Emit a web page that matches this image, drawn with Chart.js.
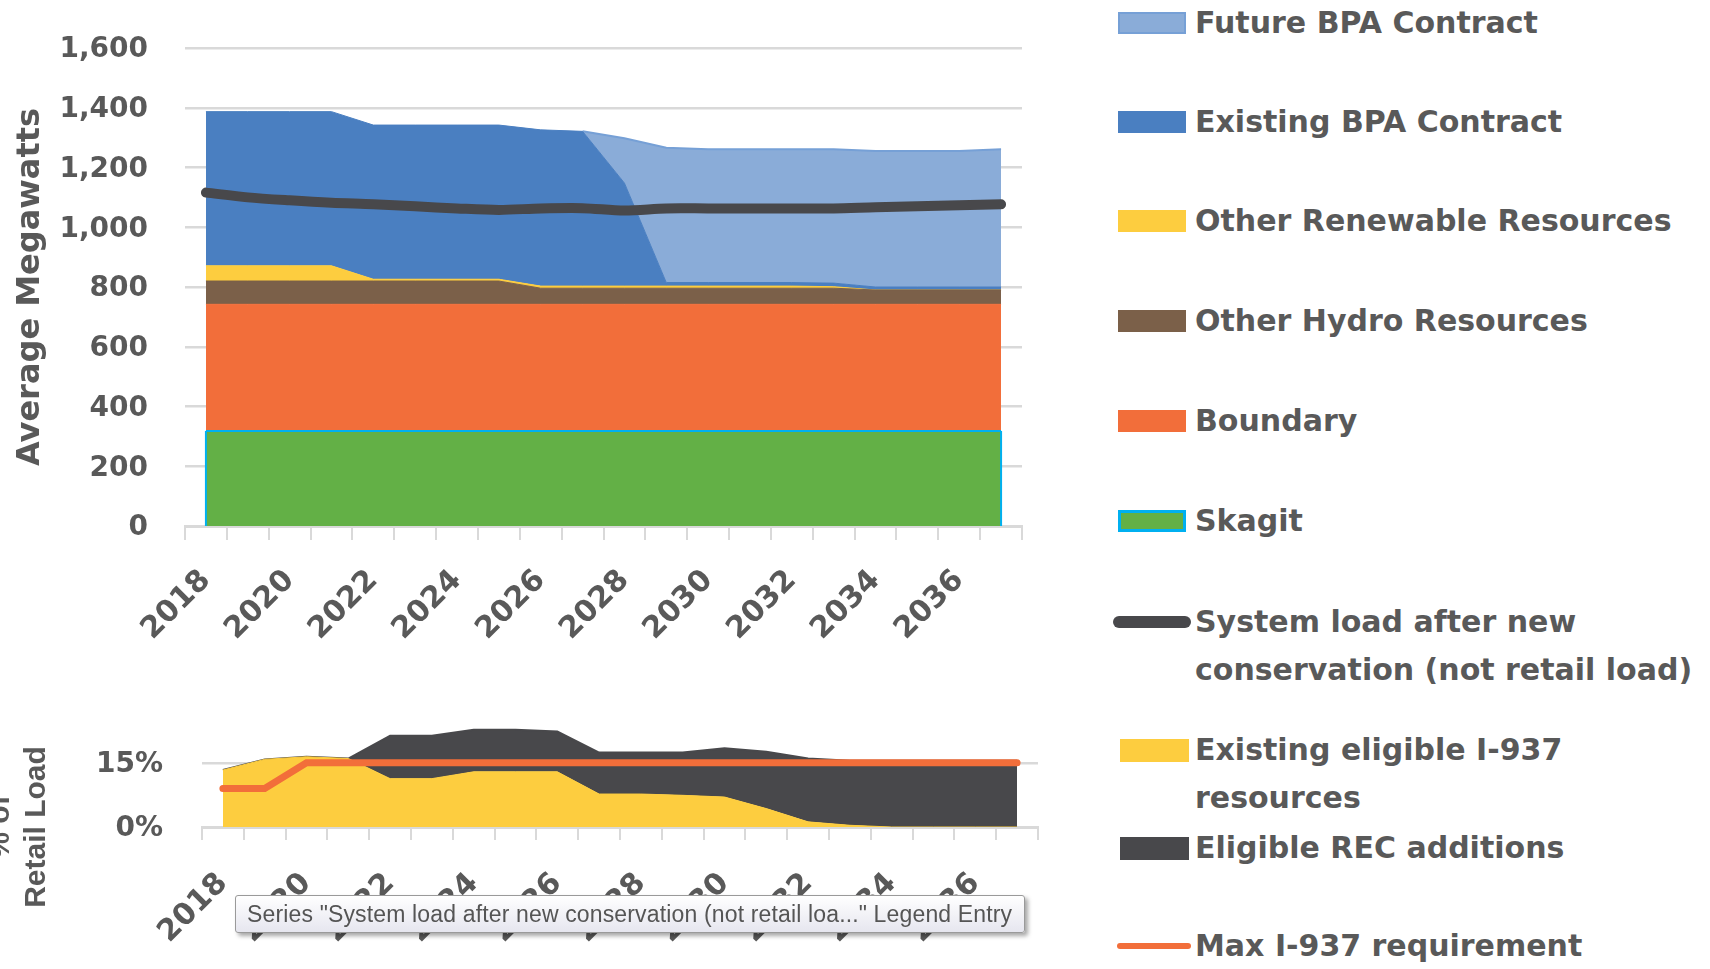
<!DOCTYPE html>
<html lang="en">
<head>
<meta charset="UTF-8" />
<title>Resources and load, 2018-2037</title>
<script src="https://cdn.jsdelivr.net/npm/chart.js@4.4.0/dist/chart.umd.min.js"></script>
<style>
  html, body { margin: 0; padding: 0; background: #fff; }
  body { width: 1710px; height: 969px; position: relative; overflow: hidden; font-family: "DejaVu Sans", sans-serif; }
  #topChart { position: absolute; left: 0; top: 0; }
  #bottomChart { position: absolute; left: -19px; top: 690px; }
  .swatch { position: absolute; box-sizing: border-box; }
  .leg-text { position: absolute; left: 1195px; width: 515px; font: bold 30px "DejaVu Sans", sans-serif; line-height: 48px; color: #595959; }
  #pctTitle { position: absolute; left: -133px; top: 791px; width: 300px; height: 72px; transform: rotate(-90deg);
              text-align: center; font: bold 30px "Liberation Sans", Arial, sans-serif; line-height: 36px; color: #595959; }
  #tip { position: absolute; left: 235px; top: 895px; width: 790px; height: 38px; box-sizing: border-box;
         border: 1px solid #9a9a9a; border-radius: 3px; background: linear-gradient(#ffffff, #e6e6ef);
         box-shadow: 3px 3px 4px rgba(0,0,0,0.35); font: 23px "Liberation Sans", Arial, sans-serif; letter-spacing: 0.15px;
         color: #555; line-height: 36px; padding-left: 11px; white-space: nowrap; }
</style>
</head>
<body>
<canvas id="topChart" width="1040" height="660"></canvas>
<canvas id="bottomChart" width="1070" height="279"></canvas>
<div id="legend"></div>
<div id="pctTitle">% of<br>Retail Load</div>
<div id="tip">Series "System load after new conservation (not retail loa..." Legend Entry</div>

<script>
// ---- data ----
const years = ['2018', '2019', '2020', '2021', '2022', '2023', '2024', '2025', '2026', '2027',
               '2028', '2029', '2030', '2031', '2032', '2033', '2034', '2035', '2036', '2037'];

// average megawatts
const skagit         = [318, 318, 318, 318, 318, 318, 318, 318, 318, 318, 318, 318, 318, 318, 318, 318, 318, 318, 318, 318];
const boundary       = [424, 424, 424, 424, 424, 424, 424, 424, 424, 424, 424, 424, 424, 424, 424, 424, 424, 424, 424, 424];
const otherHydro     = [78, 78, 78, 78, 78, 78, 78, 78, 54, 54, 54, 54, 54, 54, 54, 54, 48, 48, 48, 48];
const otherRenewable = [51, 51, 51, 51, 6, 6, 6, 6, 7, 7, 7, 7, 7, 7, 7, 5, 0, 0, 0, 0];
const existingBpa    = [516, 516, 516, 516, 516, 516, 516, 516, 523, 518, 345, 12, 12, 12, 12, 12, 10, 10, 10, 10];
const futureBpa      = [null, null, null, null, null, null, null, null, null, 0, 150, 451, 446, 446, 446, 448, 455, 455, 455, 461];
const systemLoad     = [1116, 1100, 1090, 1082, 1077, 1070, 1063, 1058, 1063, 1064, 1056, 1063, 1063, 1063, 1063, 1063, 1067, 1070, 1074, 1077];

// percent of retail load
const existingEligible = [13.3, 15.8, 16.4, 16.0, 11.3, 11.3, 12.9, 12.9, 12.9, 7.7, 7.7, 7.4, 7.0, 4.3, 1.2, 0.4, 0, 0, 0, 0];
const recAdditions     = [0, 0, 0, 0, 10.0, 10.0, 9.8, 9.8, 9.4, 9.7, 9.7, 10.0, 11.4, 13.3, 14.8, 15.1, 15.5, 15.5, 15.5, 15.5];
const maxI937          = [9, 9, 15, 15, 15, 15, 15, 15, 15, 15, 15, 15, 15, 15, 15, 15, 15, 15, 15, 15];

const mwTicks  = [0, 200, 400, 600, 800, 1000, 1200, 1400, 1600];
const pctTicks = [0, 15];

// ---- colours ----
const C = {
  future: '#8aacd8', futureEdge: '#76a0d6', existing: '#4a7fc1', renew: '#fdcd3f',
  hydro: '#7b6049', boundary: '#f26e3a', skagit: '#63b046', skagitEdge: '#00b0f0',
  load: '#48484b', rec: '#48484b', grid: '#d9d9d9', text: '#595959'
};

Chart.defaults.color = C.text;
Chart.defaults.font.family = '"DejaVu Sans", sans-serif';
Chart.defaults.font.weight = 'bold';

function area(label, data, color, fill, extra) {
  return Object.assign({
    label: label, data: data, fill: fill, stack: 'res',
    backgroundColor: color, borderColor: color, borderWidth: 1,
    pointRadius: 0, tension: 0
  }, extra || {});
}

// scale sizes are fixed by hand so the plot sits where it does in the picture
function noPad(s) { s.paddingLeft = 0; s.paddingRight = 0; s.paddingTop = 0; s.paddingBottom = 0; }

function xAxis(tickLen, pad, height) {
  return {
    offset: true,
    grid: { offset: true, drawOnChartArea: false, drawTicks: true, tickLength: tickLen, color: C.grid, lineWidth: 2 },
    border: { display: true, color: C.grid, width: 3 },
    ticks: {
      autoSkip: false, minRotation: 45, maxRotation: 45, padding: pad,
      font: { size: 30, weight: 'bold', lineHeight: 1.2 },
      callback: function (v, i) { return i % 2 === 0 ? this.getLabelForValue(v) : ''; }
    },
    afterFit: function (s) { s.height = height; noPad(s); }
  };
}

// cyan side edges of the Skagit area
const skagitEdges = {
  id: 'skagitEdges',
  afterDatasetsDraw(chart) {
    const pts = chart.getDatasetMeta(1).data;
    const base = chart.scales.y.getPixelForValue(0);
    const ctx = chart.ctx;
    ctx.save();
    ctx.strokeStyle = C.skagitEdge;
    ctx.lineWidth = 2;
    [pts[0], pts[pts.length - 1]].forEach(function (p) {
      ctx.beginPath(); ctx.moveTo(p.x, p.y); ctx.lineTo(p.x, base); ctx.stroke();
    });
    ctx.restore();
  }
};

const topChart = new Chart(document.getElementById('topChart'), {
  type: 'line',
  data: {
    labels: years,
    datasets: [
      { label: 'System load after new conservation (not retail load)', data: systemLoad, stack: 'load', fill: false,
        borderColor: C.load, borderWidth: 10, borderCapStyle: 'round', pointRadius: 0, tension: 0.3 },
      area('Skagit', skagit, C.skagit, 'origin', { borderColor: C.skagitEdge, borderWidth: 2 }),
      area('Boundary', boundary, C.boundary, '-1'),
      area('Other Hydro Resources', otherHydro, C.hydro, '-1'),
      area('Other Renewable Resources', otherRenewable, C.renew, '-1'),
      area('Existing BPA Contract', existingBpa, C.existing, '-1'),
      area('Future BPA Contract', futureBpa, C.future, '-1', { borderColor: C.futureEdge, borderWidth: 2 })
    ]
  },
  options: {
    responsive: false, animation: false, events: [],
    layout: { padding: { top: 48, right: 18, bottom: 0, left: 0 } },
    plugins: { legend: { display: false }, tooltip: { enabled: false } },
    scales: {
      x: xAxis(14, 23, 134),
      y: {
        stacked: true, min: 0, max: 1600,
        afterBuildTicks: function (s) { s.ticks = mwTicks.map(function (v) { return { value: v }; }); },
        ticks: { padding: 37, labelOffset: 2, font: { size: 28, weight: 'bold' } },
        grid: { color: C.grid, lineWidth: 2.5, drawTicks: false },
        border: { display: false },
        title: { display: true, text: 'Average Megawatts', color: C.text,
                 font: { size: 32, weight: 'bold', lineHeight: 1.2 }, padding: { top: 11, bottom: 0 } },
        afterFit: function (s) { s.width = 185; noPad(s); }
      }
    }
  },
  plugins: [skagitEdges]
});

const bottomChart = new Chart(document.getElementById('bottomChart'), {
  type: 'line',
  data: {
    labels: years,
    datasets: [
      { label: 'Max I-937 requirement', data: maxI937, stack: 'max', fill: false,
        borderColor: C.boundary, borderWidth: 7, borderCapStyle: 'round', pointRadius: 0, tension: 0 },
      area('Existing eligible I-937 resources', existingEligible, C.renew, 'origin'),
      area('Eligible REC additions', recAdditions, C.rec, '-1', { borderWidth: 2 })
    ]
  },
  options: {
    responsive: false, animation: false, events: [],
    layout: { padding: { top: 30, right: 13, bottom: 0, left: 0 } },
    plugins: { legend: { display: false }, tooltip: { enabled: false } },
    scales: {
      x: xAxis(13, 26, 142),
      y: {
        stacked: true, min: 0, max: 25,
        afterBuildTicks: function (s) { s.ticks = pctTicks.map(function (v) { return { value: v }; }); },
        ticks: { padding: 39, labelOffset: 2, font: { size: 28, weight: 'bold' }, callback: function (v) { return v + '%'; } },
        grid: { color: C.grid, lineWidth: 2.5, drawTicks: false },
        border: { display: false },
        afterFit: function (s) { s.width = 221; noPad(s); }
      }
    }
  }
});

// ---- legend (right side, spans both charts) ----
const legendRows = [
  { ds: topChart.data.datasets[6], kind: 'rect', y: 23, edge: C.futureEdge, edgeW: 2 },
  { ds: topChart.data.datasets[5], kind: 'rect', y: 122 },
  { ds: topChart.data.datasets[4], kind: 'rect', y: 221 },
  { ds: topChart.data.datasets[3], kind: 'rect', y: 321 },
  { ds: topChart.data.datasets[2], kind: 'rect', y: 421 },
  { ds: topChart.data.datasets[1], kind: 'rect', y: 521, edge: C.skagitEdge, edgeW: 3 },
  { ds: topChart.data.datasets[0], kind: 'line', y: 622, w: 12, x0: 1113, len: 78 },
  { ds: bottomChart.data.datasets[1], kind: 'rect', y: 750, x0: 1120, len: 69, h: 23 },
  { ds: bottomChart.data.datasets[2], kind: 'rect', y: 848, x0: 1120, len: 69, h: 23 },
  { ds: bottomChart.data.datasets[0], kind: 'line', y: 946, w: 6, x0: 1117, len: 74 }
];

const legend = document.getElementById('legend');
legendRows.forEach(function (r) {
  const sw = document.createElement('div');
  sw.className = 'swatch';
  if (r.kind === 'rect') {
    const h = r.h || 22;
    sw.style.left = (r.x0 || 1118) + 'px';
    sw.style.width = (r.len || 68) + 'px';
    sw.style.height = h + 'px';
    sw.style.top = (r.y - h / 2) + 'px';
    sw.style.background = r.ds.backgroundColor;
    if (r.edge) sw.style.border = r.edgeW + 'px solid ' + r.edge;
  } else {
    sw.style.left = r.x0 + 'px';
    sw.style.width = r.len + 'px';
    sw.style.height = r.w + 'px';
    sw.style.top = (r.y - r.w / 2) + 'px';
    sw.style.borderRadius = (r.w / 2) + 'px';
    sw.style.background = r.ds.borderColor;
  }
  legend.appendChild(sw);

  const tx = document.createElement('div');
  tx.className = 'leg-text';
  tx.style.top = (r.y - 24) + 'px';
  tx.textContent = r.ds.label;
  legend.appendChild(tx);
});
</script>
</body>
</html>
